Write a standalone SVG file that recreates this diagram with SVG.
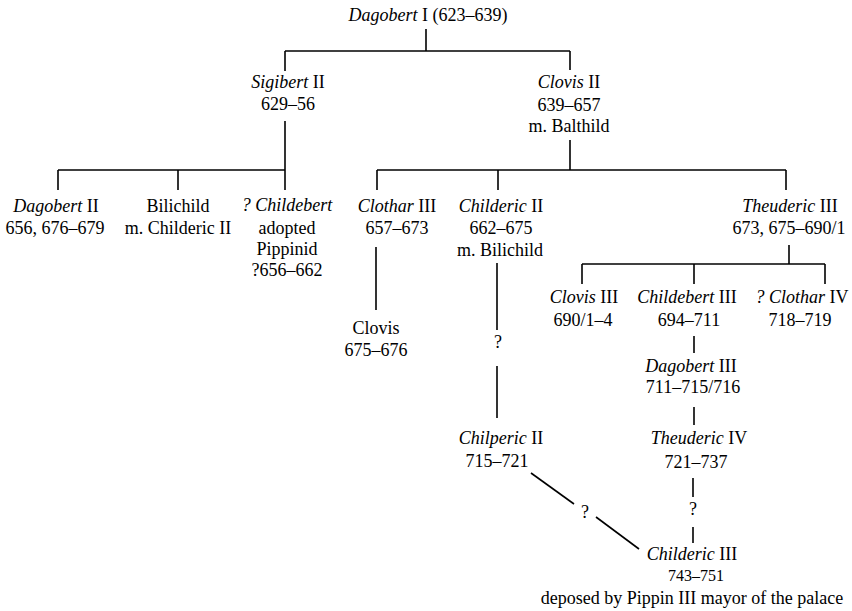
<svg xmlns="http://www.w3.org/2000/svg" width="852" height="611" viewBox="0 0 852 611">
<style>
text{font-family:"Liberation Serif","Times New Roman",serif;font-size:18px;fill:#000;text-anchor:middle}
.i{font-style:italic}
.s{font-size:16px}
.c line{stroke:#000;stroke-width:1.6;fill:none}
</style>
<rect width="852" height="611" fill="#fff"/>
<g class="c" id="connectors">
<line x1="426" y1="29" x2="426" y2="51"/>
<line x1="285" y1="51" x2="570" y2="51"/>
<line x1="285" y1="51" x2="285" y2="71"/>
<line x1="570" y1="51" x2="570" y2="70"/>
<line x1="285" y1="121" x2="285" y2="190"/>
<line x1="58" y1="170" x2="285" y2="170"/>
<line x1="58" y1="170" x2="58" y2="190"/>
<line x1="178" y1="170" x2="178" y2="190"/>
<line x1="570" y1="140" x2="570" y2="170"/>
<line x1="377" y1="170" x2="786" y2="170"/>
<line x1="377" y1="170" x2="377" y2="190"/>
<line x1="498" y1="170" x2="498" y2="190"/>
<line x1="786" y1="170" x2="786" y2="190"/>
<line x1="376" y1="247" x2="376" y2="310"/>
<line x1="497" y1="263" x2="497" y2="330"/>
<line x1="497" y1="366" x2="497" y2="418"/>
<line x1="789" y1="245" x2="789" y2="264"/>
<line x1="582" y1="264" x2="825" y2="264"/>
<line x1="582" y1="264" x2="582" y2="284"/>
<line x1="694" y1="264" x2="694" y2="284"/>
<line x1="825" y1="264" x2="825" y2="284"/>
<line x1="694" y1="336" x2="694" y2="353"/>
<line x1="694" y1="407" x2="694" y2="425"/>
<line x1="693" y1="478" x2="693" y2="497"/>
<line x1="693" y1="527" x2="693" y2="543"/>
<line x1="531" y1="473" x2="574" y2="504"/>
<line x1="596" y1="517" x2="639" y2="549"/>
<text x="498" y="348">?</text>
<text x="693" y="515">?</text>
<text x="585" y="518">?</text>
</g>
<g id="dagobert1"><text x="428" y="21"><tspan class="i">Dagobert</tspan> I (623–639)</text></g>
<g id="sigibert2"><text x="288" y="88"><tspan class="i">Sigibert</tspan> II</text><text x="288" y="110">629–56</text></g>
<g id="clovis2"><text x="569" y="88"><tspan class="i">Clovis</tspan> II</text><text x="569" y="111">639–657</text><text x="569" y="132">m. Balthild</text></g>
<g id="dagobert2"><text x="56" y="212"><tspan class="i">Dagobert</tspan> II</text><text x="55" y="234">656, 676–679</text></g>
<g id="bilichild"><text x="178" y="212">Bilichild</text><text x="178" y="234">m. Childeric II</text></g>
<g id="childebert"><text x="287" y="211"><tspan class="i">? Childebert</tspan></text><text x="287" y="234">adopted</text><text x="287" y="255">Pippinid</text><text x="287" y="276">?656–662</text></g>
<g id="clothar3"><text x="397" y="212"><tspan class="i">Clothar</tspan> III</text><text x="397" y="234">657–673</text></g>
<g id="childeric2"><text x="501" y="212"><tspan class="i">Childeric</tspan> II</text><text x="501" y="234">662–675</text><text x="500" y="256">m. Bilichild</text></g>
<g id="theuderic3"><text x="790" y="212"><tspan class="i">Theuderic</tspan> III</text><text x="789" y="234">673, 675–690/1</text></g>
<g id="clovis"><text x="376" y="334">Clovis</text><text x="376" y="356">675–676</text></g>
<g id="clovis3"><text x="584" y="303"><tspan class="i">Clovis</tspan> III</text><text x="583" y="326">690/1–4</text></g>
<g id="childebert3"><text x="687" y="303"><tspan class="i">Childebert</tspan> III</text><text x="689" y="326">694–711</text></g>
<g id="clothar4"><text x="802" y="303"><tspan class="i">? Clothar</tspan> IV</text><text x="800" y="326">718–719</text></g>
<g id="dagobert3"><text x="691" y="372"><tspan class="i">Dagobert</tspan> III</text><text x="693" y="393">711–715/716</text></g>
<g id="chilperic2"><text x="501" y="444"><tspan class="i">Chilperic</tspan> II</text><text x="497" y="467">715–721</text></g>
<g id="theuderic4"><text x="699" y="444"><tspan class="i">Theuderic</tspan> IV</text><text x="696" y="468">721–737</text></g>
<g id="childeric3"><text x="692" y="560"><tspan class="i">Childeric</tspan> III</text><text class="s" x="696" y="581">743–751</text><text x="692" y="604">deposed by Pippin III mayor of the palace</text></g>
</svg>
